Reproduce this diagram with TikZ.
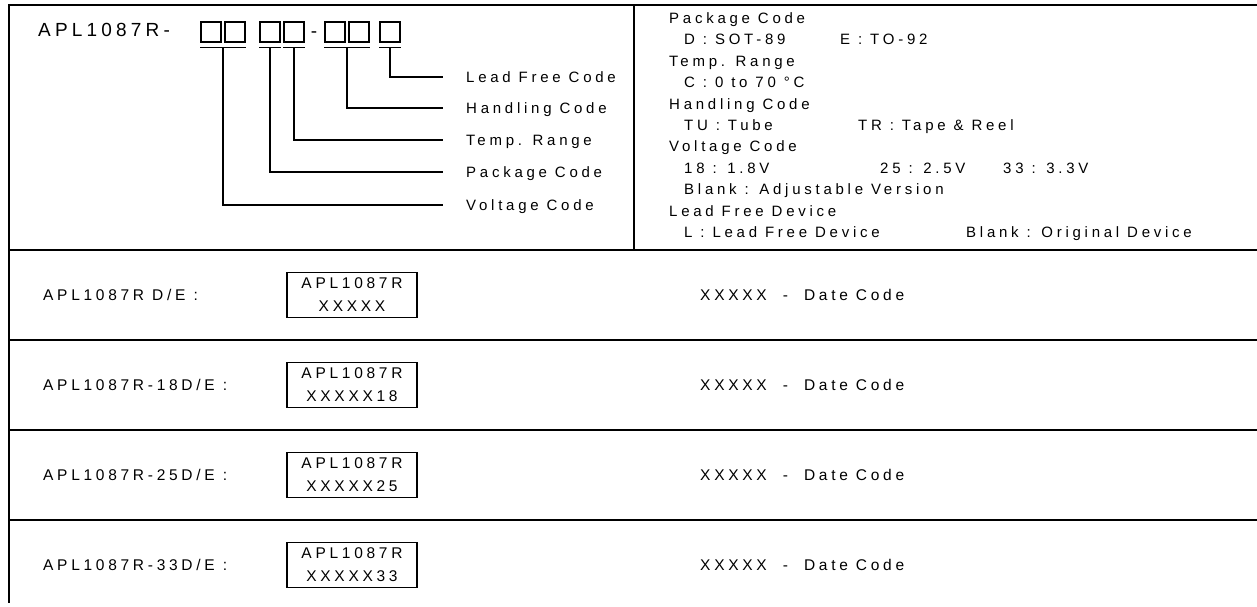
\documentclass[tikz,border=0pt]{standalone}
\usepackage{fontspec}
\setmainfont{Liberation Sans}
\newfontfamily\spaced{Liberation Sans}[LetterSpace=25]
\newfontfamily\rowfont{Liberation Sans}[LetterSpace=24]
\newfontfamily\wide{Liberation Sans}[LetterSpace=22]
\usetikzlibrary{positioning,calc}
\newcommand{\drawrule}{\draw[line width=1.5pt]}
\tikzset{
  txt/.style={inner sep=0pt, anchor=west, text height=10.8pt, text depth=0pt,
    font=\spaced\fontsize{15}{17}\selectfont},
  rowtxt/.style={inner sep=0pt, anchor=west, text height=11.1pt, text depth=0pt,
    font=\rowfont\fontsize{15.5}{17}\selectfont},
  bigtxt/.style={inner sep=0pt, anchor=west, text height=13.6pt, text depth=0pt,
    font=\wide\fontsize{19}{21}\selectfont},
  codebox/.style={draw, line width=1.3pt, minimum size=20pt, inner sep=0pt},
  markbox/.style={draw, line width=1.3pt, minimum width=130pt, minimum height=45pt,
    inner sep=0pt, align=center, font=\rowfont\fontsize{15.5}{23}\selectfont},
  leader/.style={line width=1.2pt}
}
% one row of the marking table: name, centre y, label, suffix
\newcommand{\markingrow}[4]{
  \node[rowtxt] (#1lab) at (43,#2) {#3};
  \node[markbox] (#1box) at (352,#2) {APL1087R\\XXXXX#4};
  \node[rowtxt] (#1date) at (700,#2) {XXXXX\ \ -\ \ Date Code};
}
\begin{document}
\begin{tikzpicture}[x=1pt,y=-1pt]
\useasboundingbox (0,0) rectangle (1257,606);
% frame and rules
\drawrule (1257,5)--(9,5)--(9,603);
\drawrule (634,5)--(634,250);
\foreach \y in {250,340,430,520}{
  \drawrule (9,\y)--(1257,\y);
}
% ordering code
\node[bigtxt] (part) at (38,30) {APL1087R-};
\node[codebox] (c1) at (211,32) {};
\node[codebox] (c2) at (235,32) {};
\node[codebox] (c3) at (270,32) {};
\node[codebox] (c4) at (294,32) {};
\node[bigtxt, anchor=base] (dash) at (314,37.5) {-};
\node[codebox] (c5) at (335,32) {};
\node[codebox] (c6) at (359,32) {};
\node[codebox] (c7) at (390,32) {};
\draw[leader] ([yshift=-5pt]c1.south west) -- ([yshift=-5pt]c2.south east);
\draw[leader] ([yshift=-5pt]c3.south west) -- ([yshift=-5pt]c3.south east);
\draw[leader] ([yshift=-5pt]c4.south west) -- ([yshift=-5pt]c4.south east);
\draw[leader] ([yshift=-5pt]c5.south west) -- ([yshift=-5pt]c6.south east);
\draw[leader] ([yshift=-5pt]c7.south west) -- ([yshift=-5pt]c7.south east);
\coordinate (u1) at ([yshift=-5pt]$(c1.south)!0.5!(c2.south)$);
\coordinate (u2) at ([yshift=-5pt]c3.south);
\coordinate (u3) at ([yshift=-5pt]c4.south);
\coordinate (u4) at ([yshift=-5pt]$(c5.south)!0.5!(c6.south)$);
\coordinate (u5) at ([yshift=-5pt]c7.south);
\node[txt] (lead) at (466,77) {Lead Free Code};
\node[txt] (hand) at (466,108) {Handling Code};
\node[txt] (temp) at (466,140) {Temp. Range};
\node[txt] (pack) at (466,172) {Package Code};
\node[txt] (volt) at (466,205) {Voltage Code};
\draw[leader] (u5) |- ([xshift=-23pt]lead.west);
\draw[leader] (u4) |- ([xshift=-23pt]hand.west);
\draw[leader] (u3) |- ([xshift=-23pt]temp.west);
\draw[leader] (u2) |- ([xshift=-23pt]pack.west);
\draw[leader] (u1) |- ([xshift=-23pt]volt.west);
% code legend
\node[txt] (hpack) at (669,18) {Package Code};
\node[txt] (pd) at (684,39.4) {D : SOT-89};
\node[txt] (pe) at (840,39.4) {E : TO-92};
\node[txt] (htemp) at (669,60.8) {Temp. Range};
\node[txt] (tc) at (684,82.2) {C : 0 to 70 °C};
\node[txt] (hhand) at (669,103.6) {Handling Code};
\node[txt] (htu) at (684,125) {TU : Tube};
\node[txt] (htr) at (858,125) {TR : Tape \& Reel};
\node[txt] (hvolt) at (669,146.4) {Voltage Code};
\node[txt] (v18) at (684,167.8) {18 : 1.8V};
\node[txt] (v25) at (880,167.8) {25 : 2.5V};
\node[txt] (v33) at (1003,167.8) {33 : 3.3V};
\node[txt] (vbl) at (684,189.2) {Blank : Adjustable Version};
\node[txt] (hlead) at (669,210.6) {Lead Free Device};
\node[txt] (ll) at (684,232) {L : Lead Free Device};
\node[txt] (lbl) at (966,232) {Blank : Original Device};
% marking rows
\markingrow{ra}{295}{APL1087R D/E :}{}
\markingrow{rb}{385}{APL1087R-18D/E :}{18}
\markingrow{rc}{475}{APL1087R-25D/E :}{25}
\markingrow{rd}{565}{APL1087R-33D/E :}{33}
\end{tikzpicture}
\end{document}
